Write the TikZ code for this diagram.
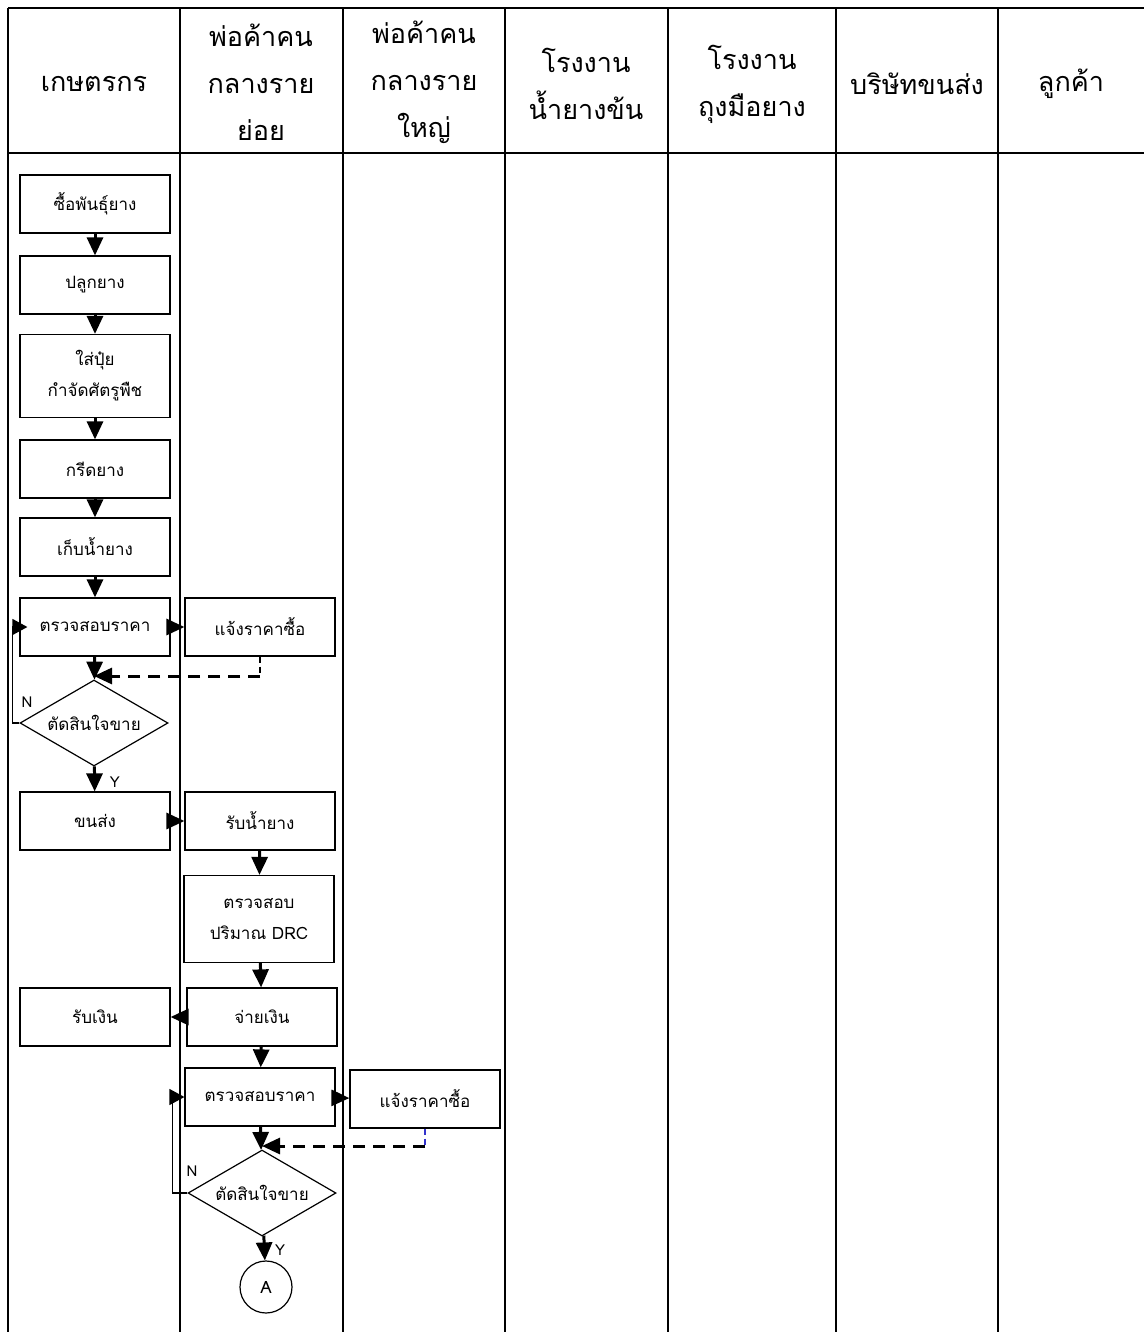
\documentclass[tikz,border=0pt]{standalone}
\usepackage{fontspec}
\newfontfamily\thaifont[Script=Thai]{Loma}
\usetikzlibrary{arrows.meta,shapes.geometric}

\begin{document}
\begin{tikzpicture}[x=0.5pt, y=-0.5pt,
    lane/.style={line width=1.3pt},
    headtext/.style={align=center, font=\thaifont\fontsize{13.5}{23.5}\selectfont},
    stepbox/.style={draw, line width=0.6pt, minimum width=75pt, minimum height=29pt,
        inner sep=0pt, align=center, font=\thaifont\fontsize{8.5}{15.5}\selectfont},
    choice/.style={draw, diamond, aspect=1.72, line width=0.6pt, minimum width=74pt,
        minimum height=43pt, inner sep=0pt, font=\thaifont\fontsize{8.5}{15.5}\selectfont},
    joint/.style={draw, circle, line width=0.6pt, minimum size=26pt, inner sep=0pt,
        font=\thaifont\fontsize{8.5}{10}\selectfont},
    flow/.style={line width=1.5pt, -{Triangle[width=8pt,length=9pt]}},
    backflow/.style={line width=0.6pt, -{Triangle[width=8pt,length=7.5pt]}},
    offer/.style={line width=1.5pt, dash pattern=on 6pt off 4pt, -{Triangle[width=8pt,length=9pt]}},
    offerdrop/.style={line width=0.6pt, dash pattern=on 3pt off 2pt},
    mark label/.style={font=\thaifont\fontsize{7.5}{9}\selectfont}]

    \useasboundingbox (0,0) rectangle (1144,1332);

    \draw[lane] (8,8) -- (1144,8);
    \draw[lane] (8,153) -- (1144,153);
    \draw[lane] (8,8) -- (8,1332);
    \draw[lane] (180,8) -- (180,1332);
    \draw[lane] (343,8) -- (343,1332);
    \draw[lane] (505,8) -- (505,1332);
    \draw[lane] (668,8) -- (668,1332);
    \draw[lane] (836,8) -- (836,1332);
    \draw[lane] (998,8) -- (998,1332);

    \node[headtext] (hfarmer) at (94,84) {เกษตรกร};
    \node[headtext] (hsmall) at (261,82) {พ่อค้าคน\\กลางราย\\ย่อย};
    \node[headtext] (hlarge) at (424,82) {พ่อค้าคน\\กลางราย\\ใหญ่};
    \node[headtext] (hlatex) at (586,84) {โรงงาน\\น้ำยางข้น};
    \node[headtext] (hglove) at (752,84) {โรงงาน\\ถุงมือยาง};
    \node[headtext] (hship) at (917,84) {บริษัทขนส่ง};
    \node[headtext] (hcust) at (1071,84) {ลูกค้า};

    \node[stepbox] (buy) at (95,204) {ซื้อพันธุ์ยาง};
    \node[stepbox] (plant) at (95,285) {ปลูกยาง};
    \node[stepbox, minimum height=41.5pt] (fert) at (95,376) {ใส่ปุ๋ย\\กำจัดศัตรูพืช};
    \node[stepbox] (tap) at (95,469) {กรีดยาง};
    \node[stepbox] (collect) at (95,547) {เก็บน้ำยาง};
    \node[stepbox] (check) at (95,627) {ตรวจสอบราคา};
    \node[stepbox] (notice) at (260,627) {แจ้งราคาซื้อ};
    \node[choice] (decide) at (94,723) {ตัดสินใจขาย};
    \node[stepbox] (haul) at (95,821) {ขนส่ง};
    \node[stepbox] (take) at (260,821) {รับน้ำยาง};
    \node[stepbox, minimum height=43.5pt] (drc) at (259,919) {ตรวจสอบ\\ปริมาณ DRC};
    \node[stepbox] (earn) at (95,1017) {รับเงิน};
    \node[stepbox] (pay) at (262,1017) {จ่ายเงิน};
    \node[stepbox] (recheck) at (260,1097) {ตรวจสอบราคา};
    \node[stepbox] (renotice) at (425,1099) {แจ้งราคาซื้อ};
    \node[choice] (redecide) at (262,1193) {ตัดสินใจขาย};
    \node[joint] (conn) at (266,1287) {A};

    \coordinate (join) at (94,676);
    \coordinate (bend) at (260,676);
    \coordinate (rejoin) at (262,1146);
    \coordinate (rebend) at (425,1146);

    \draw[flow] (buy) -- (plant);
    \draw[flow] (plant) -- (fert);
    \draw[flow] (fert) -- (tap);
    \draw[flow] (tap) -- (collect);
    \draw[flow] (collect) -- (check);
    \draw[flow] (check) -- (notice);
    \draw[flow] (check) -- (decide);
    \draw[offerdrop] (notice.south) -- (bend);
    \draw[offer] (bend) -- (join);
    \draw[backflow, shorten >=-4pt] (decide.west) -- ++(-7,0) |- (check.west);
    \draw[flow] (decide) -- (haul);
    \draw[flow] (haul) -- (take);
    \draw[flow] (take) -- (drc);
    \draw[flow] (drc) -- (pay);
    \draw[flow] (pay) -- (earn);
    \draw[flow] (pay) -- (recheck);
    \draw[flow] (recheck) -- (renotice);
    \draw[flow] (recheck) -- (redecide);
    \draw[offerdrop, blue!60!gray] (renotice.south) -- (rebend);
    \draw[offer] (rebend) -- (rejoin);
    \draw[backflow] (redecide.west) -- ++(-15,0) |- (recheck.west);
    \draw[flow] (redecide) -- (conn);

    \node[mark label] (no) at (27,702) {N};
    \node[mark label] (yes) at (115,782) {Y};
    \node[mark label] (reno) at (192,1171) {N};
    \node[mark label] (reyes) at (280,1250) {Y};
\end{tikzpicture}
\end{document}
